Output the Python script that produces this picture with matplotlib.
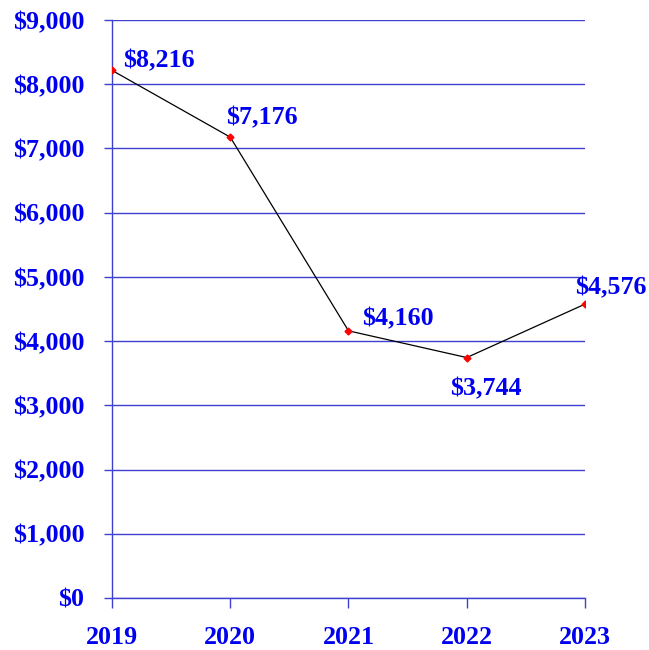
import matplotlib
matplotlib.use("Agg")
import matplotlib.pyplot as plt
from matplotlib.ticker import FuncFormatter

years = ["2019", "2020", "2021", "2022", "2023"]
values = [8216, 7176, 4160, 3744, 4576]
yticks = [0, 1000, 2000, 3000, 4000, 5000, 6000, 7000, 8000, 9000]

blue = "#0000f0"
grid_c = "#4040d0"
FS = 18.7

plt.rcParams['font.family'] = ['Liberation Serif', 'DejaVu Serif']
fig = plt.figure(figsize=(6.49, 6.5), dpi=100)
ax = fig.add_axes([112/649, 52/650, (585-112)/649, (598-20)/650])

x = list(range(len(years)))
ax.plot(x, values, color="black", lw=0.9, zorder=3)
ax.plot(x, values, ls="none", marker="D", ms=3.5, color="red", zorder=4)

ax.set_xlim(0, len(years)-1)
ax.set_ylim(0, 9000)
ax.set_yticks(yticks)
ax.yaxis.set_major_formatter(FuncFormatter(lambda v, p: f"${int(v):,}"))
ax.set_xticks(x)
ax.set_xticklabels(years)

for s in ["top", "right"]:
    ax.spines[s].set_visible(False)
for s in ["left", "bottom"]:
    ax.spines[s].set_color(grid_c)
    ax.spines[s].set_linewidth(1)

ax.grid(axis="y", color=grid_c, lw=1)
ax.set_axisbelow(True)
ax.tick_params(axis="y", length=6, width=1, color=grid_c, pad=14,
               labelsize=FS, labelcolor=blue)
ax.tick_params(axis="x", length=7, width=1, color=grid_c, pad=13,
               labelsize=FS, labelcolor=blue)
for lab in ax.get_xticklabels() + ax.get_yticklabels():
    lab.set_fontweight("bold")

offsets = [(8, 2, "left"), (-3, 9.4, "left"), (10, 4.3, "left"),
           (13.7, -27.4, "center"), (18.7, 7.2, "center")]
for xi, v, (dx, dy, ha) in zip(x, values, offsets):
    ax.annotate(f"${v:,}", (xi, v), xytext=(dx, dy), textcoords="offset points",
                ha=ha, va="baseline", fontsize=FS, fontweight="bold", color=blue,
                annotation_clip=False)

fig.savefig("out.png", dpi=100)
